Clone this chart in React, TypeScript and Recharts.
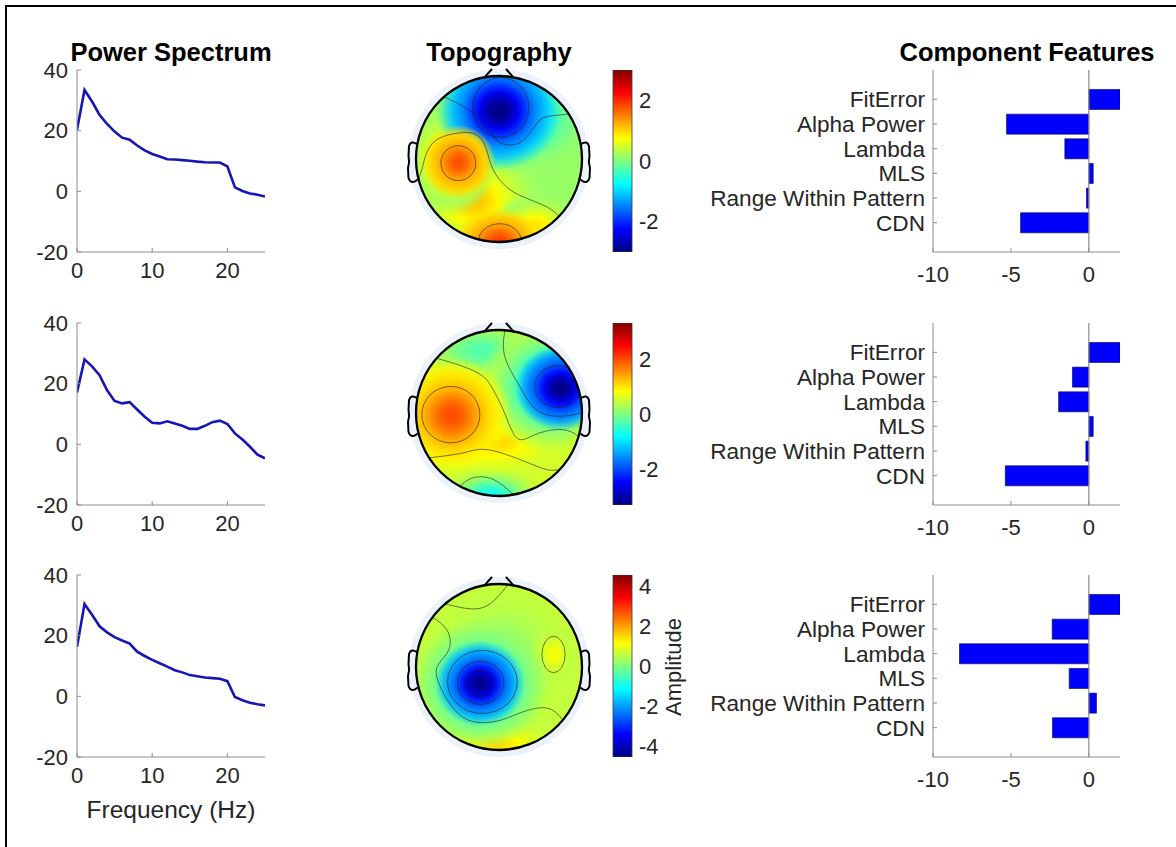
import React from 'react';
import {
  LineChart,
  Line,
  XAxis,
  YAxis,
  BarChart,
  Bar,
  ComposedChart,
  Scatter,
  ReferenceLine,
} from 'recharts';

const FONT = '"Liberation Sans", Arial, Helvetica, sans-serif';
const INK = '#262626';
const BOX = '#8c8c8c';
const LINE_BLUE = '#1616b4';
const BAR_BLUE = '#0000ff';

// ---------- power spectra (dB), 1 Hz bins ----------
const freqs = [0, 1, 2, 3, 4, 5, 6, 7, 8, 9, 10, 11, 12, 13, 14, 15, 16, 17, 18, 19, 20, 21, 22, 23, 24, 25];
const spectrumA = [20.3, 33.4, 29.6, 25.2, 22.2, 19.7, 17.7, 17.0, 15.1, 13.5, 12.3, 11.5, 10.6, 10.5, 10.3, 10.1, 9.8, 9.6, 9.5, 9.5, 8.2, 1.3, 0.1, -0.7, -1.1, -1.7];
const spectrumB = [17.1, 28.0, 25.7, 22.8, 17.8, 14.3, 13.5, 13.9, 11.5, 9.1, 7.1, 6.9, 7.6, 6.9, 6.1, 5.1, 5.1, 6.1, 7.3, 7.8, 6.7, 3.6, 1.6, -0.8, -3.4, -4.6];
const spectrumC = [16.3, 30.4, 26.9, 23.1, 21.1, 19.5, 18.4, 17.4, 14.7, 13.3, 12.0, 10.9, 9.8, 8.6, 7.9, 7.0, 6.6, 6.2, 6.0, 5.8, 5.0, -0.2, -1.3, -2.1, -2.6, -3.0];
const freqTicks = [0, 10, 20];
const powerTicks = [-20, 0, 20, 40];

// ---------- component features ----------
const featureNames = ['FitError', 'Alpha Power', 'Lambda', 'MLS', 'Range Within Pattern', 'CDN'];
const featuresA = [2.0, -5.28, -1.54, 0.28, -0.15, -4.38];
const featuresB = [2.0, -1.05, -1.94, 0.28, -0.19, -5.36];
const featuresC = [2.0, -2.35, -8.3, -1.26, 0.49, -2.33];
const featureTicks = [-10, -5, 0];

// ---------- scalp maps (head coordinates: u right, v up, radius 1) ----------
const colorLimits = [3.0, 3.3, 4.56];
const colorTicksA = [-2, 0, 2];
const colorTicksB = [-2, 0, 2];
const colorTicksC = [-4, -2, 0, 2, 4];
const baseLevels = [0.15, 0.55, 0.6];

const blobsA = [
  { id: 'a1', u: -0.3, v: -0.5, rx: 0.9, ry: 0.75, peak: 1.1, edge: 0.15 },
  { id: 'a2', u: -0.6, v: 0.0, rx: 0.6, ry: 0.7, peak: 1.0, edge: 0.15 },
  { id: 'a7', u: 0.45, v: -0.8, rx: 0.55, ry: 0.4, peak: 0.9, edge: 0.15 },
  { id: 'a3', u: 0.2, v: 0.5, rx: 1.0, ry: 0.7, peak: -1.0, edge: 0.15 },
  { id: 'a4', u: 0.0, v: 0.58, rx: 0.75, ry: 0.72, peak: -3.0, edge: -0.9 },
  { id: 'a5', u: -0.49, v: -0.04, rx: 0.45, ry: 0.45, peak: 1.8, edge: 0.9 },
  { id: 'a6', u: 0.0, v: -1.0, rx: 0.55, ry: 0.42, peak: 1.9, edge: 0.9 },
];
const ringsA = [
  { u: 0.02, v: 0.62, rx: 0.34, ry: 0.36 },
  { u: -0.49, v: -0.05, rx: 0.21, ry: 0.21 },
  { u: 0.01, v: -1.0, rx: 0.26, ry: 0.22 },
];
const contoursA = [
  [
    { u: -0.66, v: 0.75 }, { u: -0.39, v: 0.61 }, { u: -0.23, v: 0.47 }, { u: -0.09, v: 0.29 },
    { u: 0.05, v: 0.18 }, { u: 0.21, v: 0.18 }, { u: 0.335, v: 0.27 }, { u: 0.457, v: 0.43 },
    { u: 0.578, v: 0.51 }, { u: 0.84, v: 0.54 },
  ],
  [
    { u: -0.97, v: -0.25 }, { u: -0.92, v: -0.09 }, { u: -0.8, v: 0.19 }, { u: -0.51, v: 0.31 },
    { u: -0.27, v: 0.29 }, { u: -0.15, v: 0.11 }, { u: -0.07, v: -0.13 }, { u: 0.09, v: -0.335 },
    { u: 0.295, v: -0.457 }, { u: 0.578, v: -0.578 }, { u: 0.72, v: -0.69 },
  ],
];

const blobsB = [
  { id: 'b1', u: -0.2, v: 0.75, rx: 1.0, ry: 0.5, peak: -0.3, edge: 0.55 },
  { id: 'b2', u: -0.1, v: -1.0, rx: 0.7, ry: 0.4, peak: -0.8, edge: 0.55 },
  { id: 'b3', u: -0.05, v: -0.35, rx: 0.85, ry: 0.4, peak: 1.1, edge: 0.55 },
  { id: 'b4', u: 0.62, v: 0.33, rx: 0.85, ry: 0.82, peak: -1.5, edge: 0.4 },
  { id: 'b5', u: 0.74, v: 0.3, rx: 0.55, ry: 0.52, peak: -3.3, edge: -1.3 },
  { id: 'b6', u: -0.57, v: -0.03, rx: 0.72, ry: 0.7, peak: 2.0, edge: 0.8 },
];
const ringsB = [
  { u: -0.58, v: -0.02, rx: 0.35, ry: 0.34 },
  { u: 0.71, v: 0.32, rx: 0.28, ry: 0.25 },
];
const contoursB = [
  [
    { u: 0.072, v: 0.997 }, { u: 0.07, v: 0.68 }, { u: 0.25, v: 0.32 }, { u: 0.45, v: 0.04 },
    { u: 0.73, v: -0.04 }, { u: 0.995, v: 0.0 },
  ],
  [
    { u: -0.75, v: 0.66 }, { u: -0.43, v: 0.56 }, { u: -0.19, v: 0.44 }, { u: -0.07, v: 0.28 },
    { u: 0.05, v: 0.04 }, { u: 0.17, v: -0.24 }, { u: 0.29, v: -0.32 }, { u: 0.49, v: -0.24 },
    { u: 0.77, v: -0.2 }, { u: 0.96, v: -0.28 },
  ],
  [
    { u: -0.84, v: -0.54 }, { u: -0.43, v: -0.48 }, { u: -0.15, v: -0.44 }, { u: 0.25, v: -0.56 },
    { u: 0.57, v: -0.68 }, { u: 0.73, v: -0.68 },
  ],
  [
    { u: -0.47, v: -0.88 }, { u: -0.31, v: -0.78 }, { u: -0.07, v: -0.8 }, { u: 0.17, v: -0.98 },
  ],
];

const blobsC = [
  { id: 'c1', u: 0.05, v: 0.2, rx: 0.85, ry: 0.8, peak: 0.15, edge: 0.6 },
  { id: 'c2', u: -0.05, v: -0.95, rx: 0.8, ry: 0.4, peak: 1.5, edge: 0.6 },
  { id: 'c3', u: 0.66, v: 0.15, rx: 0.28, ry: 0.36, peak: 1.1, edge: 0.5 },
  { id: 'c4', u: -0.22, v: -0.2, rx: 0.85, ry: 0.8, peak: -1.6, edge: 0.3 },
  { id: 'c5', u: -0.23, v: -0.2, rx: 0.55, ry: 0.52, peak: -4.5, edge: -1.6 },
];
const ringsC = [
  { u: -0.23, v: -0.2, rx: 0.17, ry: 0.16 },
  { u: -0.22, v: -0.19, rx: 0.28, ry: 0.26 },
  { u: -0.2, v: -0.18, rx: 0.42, ry: 0.38 },
  { u: 0.657, v: 0.151, rx: 0.14, ry: 0.22 },
];
const contoursC = [
  [
    { u: -0.8, v: 0.6 }, { u: -0.625, v: 0.442 }, { u: -0.606, v: 0.203 }, { u: -0.745, v: 0.004 },
    { u: -0.725, v: -0.195 }, { u: -0.625, v: -0.394 }, { u: -0.386, v: -0.633 }, { u: -0.028, v: -0.653 },
    { u: 0.251, v: -0.554 }, { u: 0.57, v: -0.494 }, { u: 0.77, v: -0.64 },
  ],
  [
    { u: -0.65, v: 0.76 }, { u: -0.347, v: 0.701 }, { u: -0.108, v: 0.761 }, { u: 0.11, v: 0.994 },
  ],
];

// ---------- layout ----------
const ROW_TOP = [70, 322.7, 575.3];
const HEAD_CY = [159, 413, 667];
const R = 83; // head radius in px
const HEAD_BOX = 210;
const HEAD_PAD = (HEAD_BOX - 2 * R) / 2;
const CHART_TOP_PAD = 20;

// MATLAB-style jet colormap
function jet(t: number): string {
  const c = (x: number) => Math.max(0, Math.min(1, x));
  const r = c(1.5 - Math.abs(4 * t - 3));
  const g = c(1.5 - Math.abs(4 * t - 2));
  const b = c(1.5 - Math.abs(4 * t - 1));
  return `rgb(${Math.round(r * 255)},${Math.round(g * 255)},${Math.round(b * 255)})`;
}
const jetOf = (val: number, lim: number) => jet((val + lim) / (2 * lim));

const tickFont = { fill: INK, fontSize: 22, fontFamily: FONT };

function SpectrumPanel({ values, top }: { values: number[]; top: number }) {
  const rows = freqs.map((f, i) => ({ f, p: values[i] }));
  return (
    <div style={{ position: 'absolute', left: 0, top: top - CHART_TOP_PAD }}>
      <LineChart
        width={300}
        height={CHART_TOP_PAD + 182 + 40}
        data={rows}
        margin={{ top: CHART_TOP_PAD, right: 35, bottom: 0, left: 0 }}
      >
        <XAxis
          dataKey="f"
          type="number"
          domain={[0, 25]}
          ticks={freqTicks}
          interval={0}
          allowDataOverflow
          height={40}
          tickSize={-4}
          tickMargin={14}
          axisLine={{ stroke: BOX }}
          tickLine={{ stroke: BOX }}
          tick={tickFont}
        />
        <XAxis
          xAxisId="top"
          orientation="top"
          dataKey="f"
          type="number"
          domain={[0, 25]}
          ticks={freqTicks}
          interval={0}
          allowDataOverflow
          height={0}
          tickSize={-4}
          tick={false}
          axisLine={{ stroke: BOX }}
          tickLine={{ stroke: BOX }}
        />
        <YAxis
          type="number"
          domain={[-20, 40]}
          ticks={powerTicks}
          interval={0}
          allowDataOverflow
          width={77}
          tickSize={-4}
          tickMargin={13}
          axisLine={{ stroke: BOX }}
          tickLine={{ stroke: BOX }}
          tick={tickFont}
        />
        <YAxis
          yAxisId="right"
          orientation="right"
          type="number"
          domain={[-20, 40]}
          ticks={powerTicks}
          interval={0}
          allowDataOverflow
          width={0}
          tickSize={-4}
          tick={false}
          axisLine={{ stroke: BOX }}
          tickLine={{ stroke: BOX }}
        />
        <Line
          dataKey="p"
          type="linear"
          stroke={LINE_BLUE}
          strokeWidth={2.6}
          dot={false}
          activeDot={false}
          isAnimationActive={false}
        />
      </LineChart>
    </div>
  );
}

function FeaturePanel({ values, top }: { values: number[]; top: number }) {
  const rows = featureNames.map((name, i) => ({ name, value: values[i] }));
  return (
    <div style={{ position: 'absolute', left: 690, top: top - CHART_TOP_PAD }}>
      <BarChart
        width={486}
        height={CHART_TOP_PAD + 182 + 40}
        data={rows}
        layout="vertical"
        margin={{ top: CHART_TOP_PAD, right: 56, bottom: 0, left: 0 }}
        barCategoryGap="10%"
      >
        <XAxis
          type="number"
          domain={[-10, 2]}
          ticks={featureTicks}
          interval={0}
          allowDataOverflow
          height={40}
          tickSize={-4}
          tickMargin={18}
          axisLine={{ stroke: BOX }}
          tickLine={{ stroke: BOX }}
          tick={tickFont}
        />
        <XAxis
          xAxisId="top"
          orientation="top"
          type="number"
          domain={[-10, 2]}
          ticks={featureTicks}
          interval={0}
          allowDataOverflow
          height={0}
          tickSize={-4}
          tick={false}
          axisLine={{ stroke: BOX }}
          tickLine={{ stroke: BOX }}
        />
        <YAxis
          type="category"
          dataKey="name"
          width={243}
          padding={{ top: 17, bottom: 17 }}
          interval={0}
          tickSize={-4}
          tickMargin={12}
          axisLine={{ stroke: BOX }}
          tickLine={{ stroke: BOX }}
          tick={{ ...tickFont, fontSize: 22.6 }}
        />
        <YAxis
          yAxisId="right"
          orientation="right"
          type="category"
          dataKey="name"
          width={0}
          padding={{ top: 17, bottom: 17 }}
          interval={0}
          tickSize={-4}
          tick={false}
          axisLine={{ stroke: BOX }}
          tickLine={{ stroke: BOX }}
        />
        <ReferenceLine x={0} stroke={BOX} strokeWidth={1.2} />
        <Bar dataKey="value" fill={BAR_BLUE} stroke="#000040" strokeWidth={0.6} isAnimationActive={false} />
      </BarChart>
    </div>
  );
}

type Blob = { id: string; u: number; v: number; rx: number; ry: number; peak: number; edge: number };
type Ring = { u: number; v: number; rx: number; ry: number };

const discShape = (base: number, lim: number) => (p: any) => (
  <g>
    <circle cx={p.cx} cy={p.cy} r={R + 7} fill="#dbe7f4" opacity={0.55} />
    <circle cx={p.cx} cy={p.cy} r={R} fill={jetOf(base, lim)} />
  </g>
);

const blobShape = (lim: number) => (p: any) => {
  const b: Blob = p.payload;
  const gid = `blobfill-${b.id}`;
  const offs = [0, 0.1, 0.2, 0.3, 0.4, 0.5, 0.6, 0.7, 0.8, 0.9, 1];
  return (
    <g clipPath="url(#headClip)">
      <defs>
        <radialGradient id={gid} cx="50%" cy="50%" r="50%">
          {offs.map((s) => {
            const val = b.edge + (b.peak - b.edge) * Math.exp(-4 * s * s);
            const op = s <= 0.75 ? 1 : Math.max(0, (1 - s) / 0.25);
            return <stop key={s} offset={s} stopColor={jetOf(val, lim)} stopOpacity={op} />;
          })}
        </radialGradient>
      </defs>
      <ellipse cx={p.cx} cy={p.cy} rx={b.rx * R} ry={b.ry * R} fill={`url(#${gid})`} />
    </g>
  );
};

const ringShape = (p: any) => {
  const r: Ring = p.payload;
  return (
    <g clipPath="url(#headClip)">
      <ellipse
        cx={p.cx}
        cy={p.cy}
        rx={r.rx * R}
        ry={r.ry * R}
        fill="none"
        stroke="#1e1e1e"
        strokeWidth={0.8}
        strokeOpacity={0.75}
      />
    </g>
  );
};

// head outline with nose and ears
const outlineShape = (p: any) => {
  const { cx, cy } = p;
  const noseL = `M ${cx - 14.5} ${cy - 81.7} L ${cx - 7.5} ${cy - 89.5}`;
  const noseR = `M ${cx + 14.5} ${cy - 81.7} L ${cx + 7.5} ${cy - 89.5}`;
  const ear = (s: number) =>
    `M ${cx + s * 82.3} ${cy - 15} Q ${cx + s * 88} ${cy - 19} ${cx + s * 90} ${cy - 13} ` +
    `L ${cx + s * 90.5} ${cy - 3} Q ${cx + s * 89} ${cy + 3} ${cx + s * 91} ${cy + 9} ` +
    `L ${cx + s * 90.5} ${cy + 19} Q ${cx + s * 88} ${cy + 26} ${cx + s * 82} ${cy + 21}`;
  return (
    <g fill="none" stroke="#000" strokeLinejoin="round" strokeLinecap="round">
      <circle cx={cx} cy={cy} r={R} strokeWidth={2.3} />
      <path d={noseL} strokeWidth={2} />
      <path d={noseR} strokeWidth={2} />
      <path d={ear(-1)} strokeWidth={2} />
      <path d={ear(1)} strokeWidth={2} />
    </g>
  );
};

const centre = [{ u: 0, v: 0 }];

function TopoPanel({
  row,
  blobs,
  rings,
  contours,
}: {
  row: number;
  blobs: Blob[];
  rings: Ring[];
  contours: { u: number; v: number }[][];
}) {
  const lim = colorLimits[row];
  const base = baseLevels[row];
  return (
    <div style={{ position: 'absolute', left: 499 - HEAD_BOX / 2, top: HEAD_CY[row] - HEAD_BOX / 2 }}>
      <ComposedChart
        width={HEAD_BOX}
        height={HEAD_BOX}
        margin={{ top: HEAD_PAD, right: HEAD_PAD, bottom: HEAD_PAD, left: HEAD_PAD }}
      >
        <XAxis type="number" dataKey="u" domain={[-1, 1]} hide />
        <YAxis type="number" dataKey="v" domain={[-1, 1]} hide />
        <Scatter data={centre} shape={discShape(base, lim)} isAnimationActive={false} zIndex={90} />
        <Scatter data={blobs} shape={blobShape(lim)} isAnimationActive={false} zIndex={100} />
        {contours.map((c, k) => (
          <Line
            key={k}
            data={c}
            dataKey="v"
            type="natural"
            stroke="#1e1e1e"
            strokeWidth={0.8}
            strokeOpacity={0.75}
            dot={false}
            activeDot={false}
            isAnimationActive={false}
            zIndex={400}
          />
        ))}
        <Scatter data={rings} shape={ringShape} isAnimationActive={false} zIndex={410} />
        <Scatter data={centre} shape={outlineShape} isAnimationActive={false} zIndex={700} />
      </ComposedChart>
    </div>
  );
}

function ColorBar({ row, ticks }: { row: number; ticks: number[] }) {
  const lim = colorLimits[row];
  const data = [{ k: 'cb', span: [-lim, lim] }];
  return (
    <div style={{ position: 'absolute', left: 603, top: ROW_TOP[row] - CHART_TOP_PAD }}>
      <BarChart
        width={72}
        height={CHART_TOP_PAD + 182 + 40}
        data={data}
        margin={{ top: CHART_TOP_PAD, right: 0, bottom: 40, left: 10 }}
        barCategoryGap={0}
      >
        <XAxis dataKey="k" hide />
        <YAxis
          orientation="right"
          type="number"
          domain={[-lim, lim]}
          ticks={ticks}
          interval={0}
          allowDataOverflow
          width={43}
          axisLine={false}
          tickSize={0}
          tickMargin={7}
          tick={tickFont}
        />
        <Bar dataKey="span" fill="url(#jetBar)" stroke="#3a3a3a" strokeWidth={0.8} isAnimationActive={false} />
      </BarChart>
    </div>
  );
}

const jetStops = [0, 0.125, 0.25, 0.375, 0.5, 0.625, 0.75, 0.875, 1];

export default function App() {
  return (
    <div
      style={{
        position: 'fixed',
        left: 0,
        top: 0,
        width: 1176,
        height: 847,
        overflow: 'hidden',
        background: '#fff',
        fontFamily: FONT,
      }}
    >
      <svg width={0} height={0} style={{ position: 'absolute' }}>
        <defs>
          <clipPath id="headClip">
            <circle cx={HEAD_BOX / 2} cy={HEAD_BOX / 2} r={R} />
          </clipPath>
          <linearGradient id="jetBar" x1="0" y1="0" x2="0" y2="1">
            {jetStops.map((s) => (
              <stop key={s} offset={s} stopColor={jet(1 - s)} />
            ))}
          </linearGradient>
        </defs>
      </svg>

      <div
        style={{
          position: 'absolute',
          left: 5,
          top: 5,
          width: 1300,
          height: 1000,
          border: '2px solid #000',
        }}
      />

      <SpectrumPanel values={spectrumA} top={ROW_TOP[0]} />
      <SpectrumPanel values={spectrumB} top={ROW_TOP[1]} />
      <SpectrumPanel values={spectrumC} top={ROW_TOP[2]} />

      <TopoPanel row={0} blobs={blobsA} rings={ringsA} contours={contoursA} />
      <TopoPanel row={1} blobs={blobsB} rings={ringsB} contours={contoursB} />
      <TopoPanel row={2} blobs={blobsC} rings={ringsC} contours={contoursC} />

      <ColorBar row={0} ticks={colorTicksA} />
      <ColorBar row={1} ticks={colorTicksB} />
      <ColorBar row={2} ticks={colorTicksC} />

      <FeaturePanel values={featuresA} top={ROW_TOP[0]} />
      <FeaturePanel values={featuresB} top={ROW_TOP[1]} />
      <FeaturePanel values={featuresC} top={ROW_TOP[2]} />

      <svg
        width={1176}
        height={847}
        style={{ position: 'absolute', left: 0, top: 0, pointerEvents: 'none' }}
        fontFamily={FONT}
      >
        <g fontSize={25.5} fontWeight="bold" fill="#000" textAnchor="middle">
          <text x={171} y={61}>Power Spectrum</text>
          <text x={499} y={61}>Topography</text>
          <text x={1027} y={61}>Component Features</text>
        </g>
        <text x={171} y={818} fontSize={24.5} fill={INK} textAnchor="middle">
          Frequency (Hz)
        </text>
        <text
          x={673}
          y={667}
          fontSize={22}
          fill={INK}
          textAnchor="middle"
          dominantBaseline="central"
          transform="rotate(-90 673 667)"
        >
          Amplitude
        </text>
      </svg>
    </div>
  );
}
